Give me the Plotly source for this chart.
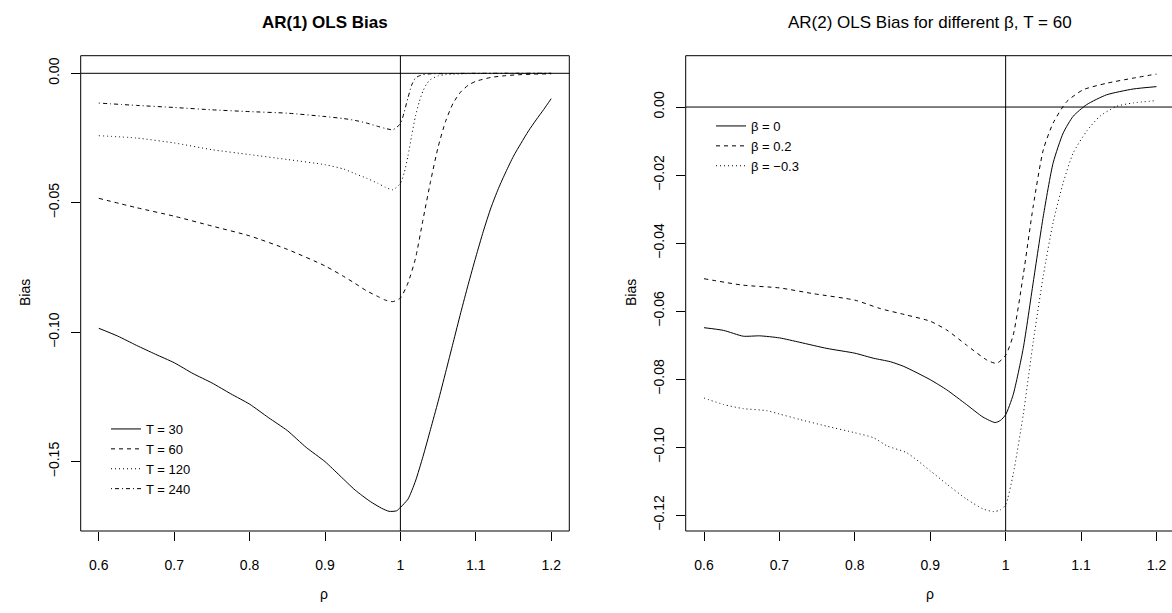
import plotly.graph_objects as go

# ---------------- data ----------------
rho_T30 = [0.6, 0.625, 0.65, 0.675, 0.7, 0.725, 0.75, 0.775, 0.8, 0.825, 0.85, 0.875, 0.9, 0.92,
           0.94, 0.96, 0.975, 0.985, 0.995, 1.0, 1.01, 1.02, 1.03, 1.04, 1.05, 1.06, 1.07, 1.08,
           1.09, 1.1, 1.11, 1.12, 1.13, 1.14, 1.15, 1.16, 1.17, 1.18, 1.19, 1.2]
bias_T30 = [-0.0985, -0.1015, -0.1051, -0.1085, -0.1118, -0.1160, -0.1196, -0.1238, -0.1278, -0.1330,
            -0.1380, -0.1445, -0.1500, -0.1555, -0.1610, -0.1654, -0.1680, -0.1692, -0.1690, -0.1677,
            -0.1645, -0.1575, -0.1480, -0.1375, -0.1268, -0.1155, -0.1040, -0.0925, -0.0815, -0.0710,
            -0.0610, -0.0520, -0.0445, -0.0380, -0.0320, -0.0270, -0.0222, -0.0180, -0.0140, -0.0098]

rho_T60 = [0.6, 0.65, 0.7, 0.75, 0.8, 0.85, 0.9, 0.925, 0.94, 0.955, 0.97, 0.98, 0.99, 1.0, 1.01,
           1.02, 1.03, 1.04, 1.05, 1.06, 1.07, 1.08, 1.09, 1.1, 1.12, 1.14, 1.16, 1.18, 1.2]
bias_T60 = [-0.0483, -0.0519, -0.0552, -0.0590, -0.0628, -0.0680, -0.0744, -0.0785, -0.0812, -0.0840,
            -0.0862, -0.0876, -0.0882, -0.0868, -0.0810, -0.0715, -0.0565, -0.0418, -0.0285, -0.0185,
            -0.0115, -0.0072, -0.0046, -0.0031, -0.0016, -0.0009, -0.0005, -0.0003, -0.0002]

rho_T120 = [0.6, 0.65, 0.7, 0.75, 0.8, 0.85, 0.9, 0.925, 0.94, 0.955, 0.97, 0.98, 0.99, 1.0, 1.005,
            1.01, 1.015, 1.02, 1.025, 1.03, 1.035, 1.04, 1.05, 1.06, 1.08, 1.1, 1.2]
bias_T120 = [-0.0241, -0.0250, -0.0269, -0.0295, -0.0314, -0.0333, -0.0353, -0.0370, -0.0388, -0.0405,
             -0.0425, -0.0440, -0.0450, -0.0425, -0.0385, -0.0320, -0.0240, -0.0165, -0.0110, -0.0068,
             -0.0040, -0.0024, -0.0010, -0.0005, -0.0002, -0.0001, 0.0]

rho_T240 = [0.6, 0.65, 0.7, 0.75, 0.8, 0.85, 0.9, 0.925, 0.94, 0.955, 0.97, 0.98, 0.99, 1.0, 1.005,
            1.01, 1.015, 1.02, 1.025, 1.03, 1.04, 1.06, 1.1, 1.2]
bias_T240 = [-0.0115, -0.0124, -0.0132, -0.0141, -0.0148, -0.0154, -0.0167, -0.0175, -0.0182, -0.0192,
             -0.0205, -0.0213, -0.0218, -0.0195, -0.0150, -0.0095, -0.0045, -0.0018, -0.0010, -0.0005,
             -0.0002, -0.0001, 0.0, 0.0]

rho_b0 = [0.6, 0.626, 0.652, 0.674, 0.7, 0.727, 0.763, 0.8, 0.825, 0.847, 0.865, 0.9, 0.922, 0.948,
          0.97, 0.986, 0.993, 1.0, 1.01, 1.0233, 1.0366, 1.05, 1.063, 1.0764, 1.0896, 1.1074, 1.1339,
          1.169, 1.2]
bias_b0 = [-0.0649, -0.0657, -0.0674, -0.0673, -0.0679, -0.0692, -0.0710, -0.0724, -0.0739, -0.0749,
           -0.0763, -0.0802, -0.0832, -0.0875, -0.0912, -0.0928, -0.0922, -0.0905, -0.0846, -0.0710,
           -0.0515, -0.0320, -0.0164, -0.0076, -0.0027, 0.0007, 0.0036, 0.0053, 0.0060]

rho_b02 = [0.6, 0.652, 0.7, 0.745, 0.8, 0.834, 0.869, 0.9, 0.922, 0.948, 0.975, 0.988, 1.0, 1.01,
           1.0233, 1.0366, 1.05, 1.063, 1.081, 1.103, 1.134, 1.169, 1.2]
bias_b02 = [-0.0505, -0.0524, -0.0532, -0.0549, -0.0568, -0.0593, -0.0612, -0.0630, -0.0656, -0.0700,
            -0.0744, -0.0754, -0.0730, -0.0671, -0.0495, -0.0291, -0.0125, -0.0047, 0.0016, 0.0051,
            0.0070, 0.0085, 0.0097]

rho_bm03 = [0.6, 0.626, 0.652, 0.683, 0.7, 0.727, 0.763, 0.8, 0.825, 0.843, 0.869, 0.9, 0.922, 0.948,
            0.97, 0.984, 0.993, 1.0, 1.01, 1.0233, 1.0366, 1.05, 1.063, 1.0764, 1.0896, 1.1074, 1.125,
            1.147, 1.169, 1.2]
bias_bm03 = [-0.0856, -0.0875, -0.0887, -0.0893, -0.0903, -0.0919, -0.0939, -0.0958, -0.0973, -0.0997,
             -0.1017, -0.1070, -0.1109, -0.1153, -0.1182, -0.1190, -0.1185, -0.1170, -0.1080, -0.0905,
             -0.0690, -0.0495, -0.0339, -0.0222, -0.0135, -0.0071, -0.0027, 0.0002, 0.0012, 0.0019]

x_ticks = [0.6, 0.7, 0.8, 0.9, 1.0, 1.1, 1.2]
x_ticktext = ["0.6", "0.7", "0.8", "0.9", "1", "1.1", "1.2"]
y1_ticks = [0.0, -0.05, -0.10, -0.15]
y1_ticktext = ["0.00", "\u22120.05", "\u22120.10", "\u22120.15"]
y2_ticks = [0.0, -0.02, -0.04, -0.06, -0.08, -0.10, -0.12]
y2_ticktext = ["0.00", "\u22120.02", "\u22120.04", "\u22120.06", "\u22120.08", "\u22120.10", "\u22120.12"]

left_names = ["T = 30", "T = 60", "T = 120", "T = 240"]
right_names = ["\u03b2 = 0", "\u03b2 = 0.2", "\u03b2 = \u22120.3"]

# ---------------- figure ----------------
W, H = 1172, 613
FONT = "Liberation Sans, Arial, Helvetica, sans-serif"
TICK_SIZE = 14


def px(x):
    return x / W


def py(y):
    return 1 - y / H


fig = go.Figure()

dashes_left = ["solid", "4px,4px", "1px,3px", "1px,3px,4px,3px"]
left_series = [(rho_T30, bias_T30), (rho_T60, bias_T60), (rho_T120, bias_T120), (rho_T240, bias_T240)]
for (xs, ys), name, d in zip(left_series, left_names, dashes_left):
    fig.add_trace(go.Scatter(x=xs, y=ys, mode="lines", name=name, xaxis="x", yaxis="y",
                             line=dict(color="black", width=1, dash=d, shape="spline", smoothing=0.6),
                             legend="legend"))

dashes_right = ["solid", "4px,4px", "1px,3px"]
right_series = [(rho_b0, bias_b0), (rho_b02, bias_b02), (rho_bm03, bias_bm03)]
for (xs, ys), name, d in zip(right_series, right_names, dashes_right):
    fig.add_trace(go.Scatter(x=xs, y=ys, mode="lines", name=name, xaxis="x2", yaxis="y2",
                             line=dict(color="black", width=1, dash=d, shape="spline", smoothing=0.6),
                             legend="legend2"))

ax_common = dict(showgrid=False, zeroline=False, showline=False, ticks="outside", ticklen=9,
                 tickwidth=1, tickcolor="black", tickfont=dict(family=FONT, size=TICK_SIZE, color="black"))

x_left, x_right = 80.7, 569.3
x2_left = 685.7
y_top, y_bot = 55.7, 531.0

fig.update_layout(
    width=W, height=H, margin=dict(l=0, r=0, t=0, b=0),
    paper_bgcolor="white", plot_bgcolor="white",
    font=dict(family=FONT, size=13, color="black"),
    xaxis=dict(domain=[px(x_left), px(x_right)], range=[0.576, 1.224], anchor="y",
               tickvals=x_ticks, ticktext=x_ticktext, ticklabelstandoff=12, **ax_common),
    yaxis=dict(domain=[py(y_bot), py(y_top)], range=[-0.1768, 0.0068], anchor="x",
               tickvals=y1_ticks, ticktext=y1_ticktext, tickangle=-90, ticklabelstandoff=6, **ax_common),
    xaxis2=dict(domain=[px(x2_left), 1.0], range=[0.5757, 1.2206], anchor="y2",
                tickvals=x_ticks, ticktext=x_ticktext, ticklabelstandoff=12, **ax_common),
    yaxis2=dict(domain=[py(y_bot), py(y_top)], range=[-0.1247, 0.0151], anchor="x2",
                tickvals=y2_ticks, ticktext=y2_ticktext, tickangle=-90, ticklabelstandoff=6, **ax_common),
    legend=dict(x=px(106), y=py(414), xanchor="left", yanchor="top", bgcolor="rgba(0,0,0,0)",
                font=dict(family=FONT, size=13), tracegroupgap=0, itemwidth=30),
    legend2=dict(x=px(711), y=py(111), xanchor="left", yanchor="top", bgcolor="rgba(0,0,0,0)",
                 font=dict(family=FONT, size=13), tracegroupgap=0, itemwidth=30),
    showlegend=True,
)

shapes = []
shapes.append(dict(type="rect", xref="x domain", yref="y domain", x0=0, x1=1, y0=0, y1=1,
                   line=dict(color="black", width=1)))
for (x0, x1, y0, y1) in [(0, 0, 0, 1), (0, 1, 0, 0), (0, 1, 1, 1)]:
    shapes.append(dict(type="line", xref="x2 domain", yref="y2 domain", x0=x0, x1=x1, y0=y0, y1=y1,
                       line=dict(color="black", width=1)))
shapes.append(dict(type="line", xref="x domain", yref="y", x0=0, x1=1, y0=0, y1=0, line=dict(color="black", width=1)))
shapes.append(dict(type="line", xref="x", yref="y domain", x0=1, x1=1, y0=0, y1=1, line=dict(color="black", width=1)))
shapes.append(dict(type="line", xref="x2 domain", yref="y2", x0=0, x1=1, y0=0, y1=0, line=dict(color="black", width=1)))
shapes.append(dict(type="line", xref="x2", yref="y2 domain", x0=1, x1=1, y0=0, y1=1, line=dict(color="black", width=1)))
fig.update_layout(shapes=shapes)

ann = [
    dict(text="<b>AR(1) OLS Bias</b>", x=px(325), y=py(22), font=dict(size=17)),
    dict(text="AR(2) OLS Bias for different \u03b2, T = 60", x=px(930), y=py(22), font=dict(size=17)),
    dict(text="\u03c1", x=px(324), y=py(594), font=dict(size=14)),
    dict(text="\u03c1", x=px(930), y=py(594), font=dict(size=14)),
    dict(text="Bias", x=px(25), y=py(293), textangle=-90, font=dict(size=14)),
    dict(text="Bias", x=px(631), y=py(293), textangle=-90, font=dict(size=14)),
]
for a in ann:
    a.update(xref="paper", yref="paper", showarrow=False, xanchor="center", yanchor="middle")
    a["font"].update(family=FONT, color="black")
fig.update_layout(annotations=ann)

fig.write_html("out.html", config={"displayModeBar": False})

# remove the browser's default page margin so the figure sits at the window's top-left corner
with open("out.html", "r", encoding="utf-8") as f:
    html = f.read()
html = html.replace("<head>", "<head><style>html,body{margin:0;padding:0;overflow:hidden;}</style>", 1)
with open("out.html", "w", encoding="utf-8") as f:
    f.write(html)
